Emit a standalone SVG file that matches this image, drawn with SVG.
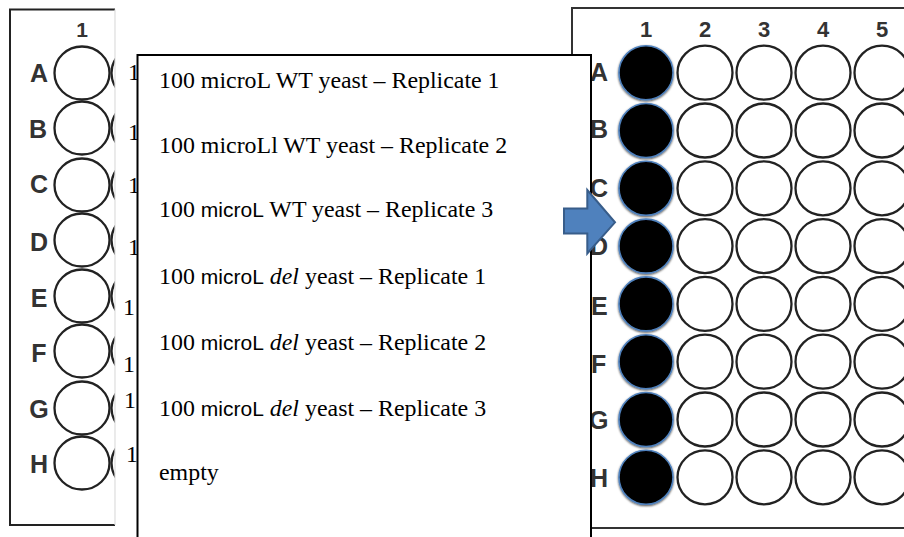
<svg xmlns="http://www.w3.org/2000/svg" width="904" height="537" viewBox="0 0 904 537">
  <defs>
    <clipPath id="leftClip">
      <rect x="0" y="0" width="115" height="537"/>
    </clipPath>
    <filter id="wellShadow" x="-30%" y="-30%" width="160%" height="160%">
      <feDropShadow dx="0" dy="1" stdDeviation="1.3" flood-color="#000" flood-opacity="0.7"/>
    </filter>
  </defs>
  <style>
    .well { fill: #fff; stroke: #222; stroke-width: 2.3; }
    .filled { fill: #000; stroke: #4F81BD; stroke-width: 1.6; filter: url(#wellShadow); }
    .lbl { font-family: "Liberation Sans", Arial, sans-serif; font-weight: bold; fill: #333; }
    .row { font-size: 25px; }
    .col { font-size: 22px; text-anchor: middle; }
    .note { font-family: "Liberation Serif", "Times New Roman", serif; font-size: 23.9px; fill: #000; }
    .sans { font-family: "Liberation Sans", Arial, sans-serif; font-size: 21px; }
  </style>

  <rect width="904" height="537" fill="#fff"/>

  <!-- Left plate: column 1 only, cut off on the right -->
  <g id="plate-left">
    <g clip-path="url(#leftClip)">
      <text class="lbl col" x="82" y="37" style="font-size:21px">1</text>
      <g>
        <ellipse class="well" cx="82" cy="73" rx="27.5" ry="26.5"/>
        <ellipse class="well" cx="82" cy="128" rx="27.5" ry="26.5"/>
        <ellipse class="well" cx="82" cy="185" rx="27.5" ry="26.5"/>
        <ellipse class="well" cx="82" cy="240" rx="27.5" ry="26.5"/>
        <ellipse class="well" cx="82" cy="296" rx="27.5" ry="26.5"/>
        <ellipse class="well" cx="82" cy="351" rx="27.5" ry="26.5"/>
        <ellipse class="well" cx="82" cy="408" rx="27.5" ry="26.5"/>
        <ellipse class="well" cx="82" cy="463" rx="27.5" ry="26.5"/>
        <ellipse class="well" cx="139" cy="73" rx="27.5" ry="26.5"/>
        <ellipse class="well" cx="139" cy="128" rx="27.5" ry="26.5"/>
        <ellipse class="well" cx="139" cy="185" rx="27.5" ry="26.5"/>
        <ellipse class="well" cx="139" cy="240" rx="27.5" ry="26.5"/>
        <ellipse class="well" cx="139" cy="296" rx="27.5" ry="26.5"/>
        <ellipse class="well" cx="139" cy="351" rx="27.5" ry="26.5"/>
        <ellipse class="well" cx="139" cy="408" rx="27.5" ry="26.5"/>
        <ellipse class="well" cx="139" cy="463" rx="27.5" ry="26.5"/>
      </g>
      <g class="lbl row" text-anchor="middle">
        <text x="39" y="82">A</text>
        <text x="38" y="138">B</text>
        <text x="39" y="193">C</text>
        <text x="39" y="251">D</text>
        <text x="39" y="307">E</text>
        <text x="39" y="362">F</text>
        <text x="39" y="418">G</text>
        <text x="39" y="473">H</text>
      </g>
    </g>
    <path d="M115 9.5 H10 V525 H115" fill="none" stroke="#222" stroke-width="2"/>
    <line x1="115" y1="9.5" x2="115" y2="525" stroke="#ddd" stroke-width="1.2"/>
  </g>

  <!-- Digits of the lines tucked behind the legend box -->
  <g id="hidden-digits" class="note">
    <text x="128" y="80">1</text>
    <text x="128" y="140">1</text>
    <text x="128" y="193">1</text>
    <text x="128" y="255">1</text>
    <text x="123" y="315">1</text>
    <text x="123" y="372">1</text>
    <text x="124" y="408">1</text>
    <text x="126" y="462">1</text>
  </g>

  <!-- Right plate: columns 1-5, column 1 filled -->
  <g id="plate-right">
    <rect x="572" y="8" width="345" height="520" fill="#fff" stroke="#333" stroke-width="2"/>
    <g class="lbl col">
      <text x="646" y="37">1</text>
      <text x="705" y="37">2</text>
      <text x="764" y="37">3</text>
      <text x="823" y="37">4</text>
      <text x="882" y="37">5</text>
    </g>
    <g id="wells-empty">
      <ellipse class="well" cx="705" cy="72.7" rx="27.5" ry="27"/>
      <ellipse class="well" cx="764" cy="72.7" rx="27.5" ry="27"/>
      <ellipse class="well" cx="823" cy="72.7" rx="27.5" ry="27"/>
      <ellipse class="well" cx="882" cy="72.7" rx="27.5" ry="27"/>
      <ellipse class="well" cx="705" cy="130.5" rx="27.5" ry="27"/>
      <ellipse class="well" cx="764" cy="130.5" rx="27.5" ry="27"/>
      <ellipse class="well" cx="823" cy="130.5" rx="27.5" ry="27"/>
      <ellipse class="well" cx="882" cy="130.5" rx="27.5" ry="27"/>
      <ellipse class="well" cx="705" cy="188.3" rx="27.5" ry="27"/>
      <ellipse class="well" cx="764" cy="188.3" rx="27.5" ry="27"/>
      <ellipse class="well" cx="823" cy="188.3" rx="27.5" ry="27"/>
      <ellipse class="well" cx="882" cy="188.3" rx="27.5" ry="27"/>
      <ellipse class="well" cx="705" cy="246.1" rx="27.5" ry="27"/>
      <ellipse class="well" cx="764" cy="246.1" rx="27.5" ry="27"/>
      <ellipse class="well" cx="823" cy="246.1" rx="27.5" ry="27"/>
      <ellipse class="well" cx="882" cy="246.1" rx="27.5" ry="27"/>
      <ellipse class="well" cx="705" cy="303.9" rx="27.5" ry="27"/>
      <ellipse class="well" cx="764" cy="303.9" rx="27.5" ry="27"/>
      <ellipse class="well" cx="823" cy="303.9" rx="27.5" ry="27"/>
      <ellipse class="well" cx="882" cy="303.9" rx="27.5" ry="27"/>
      <ellipse class="well" cx="705" cy="361.7" rx="27.5" ry="27"/>
      <ellipse class="well" cx="764" cy="361.7" rx="27.5" ry="27"/>
      <ellipse class="well" cx="823" cy="361.7" rx="27.5" ry="27"/>
      <ellipse class="well" cx="882" cy="361.7" rx="27.5" ry="27"/>
      <ellipse class="well" cx="705" cy="419.5" rx="27.5" ry="27"/>
      <ellipse class="well" cx="764" cy="419.5" rx="27.5" ry="27"/>
      <ellipse class="well" cx="823" cy="419.5" rx="27.5" ry="27"/>
      <ellipse class="well" cx="882" cy="419.5" rx="27.5" ry="27"/>
      <ellipse class="well" cx="705" cy="477.3" rx="27.5" ry="27"/>
      <ellipse class="well" cx="764" cy="477.3" rx="27.5" ry="27"/>
      <ellipse class="well" cx="823" cy="477.3" rx="27.5" ry="27"/>
      <ellipse class="well" cx="882" cy="477.3" rx="27.5" ry="27"/>
    </g>
    <g id="wells-filled">
      <circle class="filled" cx="646" cy="72.7" r="27"/>
      <circle class="filled" cx="646" cy="130.5" r="27"/>
      <circle class="filled" cx="646" cy="188.3" r="27"/>
      <circle class="filled" cx="646" cy="246.1" r="27"/>
      <circle class="filled" cx="646" cy="303.9" r="27"/>
      <circle class="filled" cx="646" cy="361.7" r="27"/>
      <circle class="filled" cx="646" cy="419.5" r="27"/>
      <circle class="filled" cx="646" cy="477.3" r="27"/>
    </g>
    <g class="lbl row">
      <text x="590" y="80.7">A</text>
      <text x="590" y="138.3">B</text>
      <text x="590" y="196.7">C</text>
      <text x="590" y="255">D</text>
      <text x="591" y="315">E</text>
      <text x="591" y="372.7">F</text>
      <text x="589" y="429">G</text>
      <text x="590" y="486.7">H</text>
    </g>
  </g>

  <!-- Legend box listing the contents of each row -->
  <g id="legend">
    <rect x="137.5" y="55" width="453.5" height="500" fill="#fff" stroke="#000" stroke-width="2"/>
    <g class="note">
      <text x="159" y="88">100 microL WT yeast – Replicate 1</text>
      <text x="159" y="153">100 microLl WT yeast – Replicate 2</text>
      <text x="159" y="217">100 <tspan class="sans">microL</tspan> WT yeast – Replicate 3</text>
      <text x="159" y="284">100 <tspan class="sans">microL</tspan> <tspan font-style="italic">del</tspan> yeast – Replicate 1</text>
      <text x="159" y="350">100 <tspan class="sans">microL</tspan> <tspan font-style="italic">del</tspan> yeast – Replicate 2</text>
      <text x="159" y="416">100 <tspan class="sans">microL</tspan> <tspan font-style="italic">del</tspan> yeast – Replicate 3</text>
      <text x="159" y="480">empty</text>
    </g>
  </g>

  <!-- Block arrow pointing into the right plate -->
  <g id="connectors">
    <path d="M564 208.5 H587.3 V190 L615 222.3 L587.3 253.5 V233.5 H564 Z" fill="#4F81BD" stroke="#385D8A" stroke-width="2" stroke-linejoin="miter"/>
  </g>
</svg>
